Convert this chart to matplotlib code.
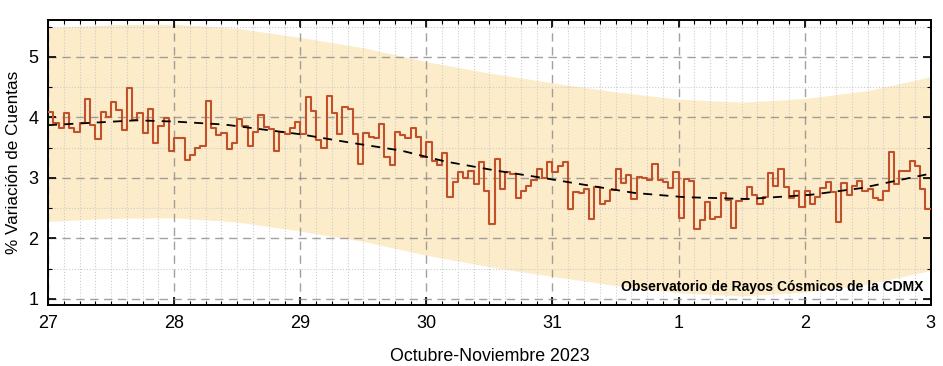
import numpy as np
import matplotlib
matplotlib.use("Agg")
import matplotlib.pyplot as plt
from matplotlib.ticker import MultipleLocator, FixedLocator, FixedFormatter

plt.rcParams['font.family'] = ['Liberation Sans', 'DejaVu Sans']

# hourly % variation, 27 Oct 00h .. 2 Nov 23h
hourly = [4.09, 3.91, 3.83, 4.07, 3.82, 3.76, 3.91, 4.31, 3.87, 3.64,
          4.08, 4.01, 4.26, 4.12, 3.79, 4.48, 3.96, 4.07, 3.74, 4.14,
          3.57, 3.86, 3.99, 3.45, 3.66, 3.65, 3.29, 3.38, 3.50, 3.52,
          4.27, 3.82, 3.70, 3.74, 3.48, 3.57, 3.97, 3.85, 3.53, 3.75,
          4.04, 3.84, 3.80, 3.45, 3.76, 3.73, 3.82, 3.93, 3.73, 4.34,
          4.10, 3.63, 3.49, 4.36, 4.07, 3.73, 4.17, 4.14, 3.73, 3.23,
          3.74, 3.67, 3.66, 3.89, 3.34, 3.22, 3.75, 3.70, 3.65, 3.83,
          3.67, 3.35, 3.60, 3.27, 3.21, 3.41, 2.68, 2.93, 3.10, 2.99,
          3.12, 2.90, 3.26, 2.79, 2.24, 3.31, 2.81, 3.09, 3.07, 2.67,
          2.78, 2.86, 2.96, 3.14, 2.99, 3.26, 3.10, 3.19, 3.26, 2.49,
          2.76, 2.75, 2.82, 2.32, 2.84, 2.57, 2.62, 2.80, 3.15, 2.92,
          3.04, 2.65, 3.01, 2.99, 2.97, 3.23, 2.97, 2.93, 2.83, 3.10,
          2.33, 2.98, 2.94, 2.16, 2.31, 2.60, 2.32, 2.35, 2.75, 2.63,
          2.17, 2.61, 2.65, 2.84, 2.71, 2.57, 2.68, 3.08, 2.87, 3.15,
          2.85, 2.67, 2.79, 2.51, 2.78, 2.57, 2.69, 2.83, 2.93, 2.76,
          2.27, 2.92, 2.71, 2.87, 2.95, 2.78, 2.82, 2.67, 2.64, 2.79,
          3.43, 2.89, 3.11, 3.11, 3.28, 3.19, 2.81, 2.48]

# dashed trend (days since 27 Oct)
trend_day = [0, 0.7, 1.0, 1.4, 2.0, 2.4, 2.8, 3.15, 3.55, 3.95, 4.15, 4.65,
             5.05, 5.55, 6.05, 6.45, 6.7, 7.0]
trend_val = [3.87, 3.95, 3.93, 3.88, 3.72, 3.58, 3.45, 3.27, 3.12, 2.99, 2.92,
             2.75, 2.68, 2.65, 2.72, 2.83, 2.94, 3.07]

# shaded band
band_day = [0, 0.5, 1.0, 1.5, 2.0, 2.5, 3.0, 3.5, 4.0, 4.5, 5.0, 5.5, 6.0, 6.5, 7.0]
band_hi = [5.48, 5.53, 5.54, 5.47, 5.32, 5.15, 4.92, 4.73, 4.57, 4.42, 4.30,
           4.25, 4.31, 4.44, 4.67]
band_lo = [2.28, 2.33, 2.34, 2.27, 2.12, 1.95, 1.72, 1.53, 1.37, 1.22, 1.10,
           1.05, 1.11, 1.24, 1.47]

day_labels = ["27", "28", "29", "30", "31", "1", "2", "3"]

fig = plt.figure(figsize=(9.43, 3.66), dpi=100)
ax = fig.add_axes([0.051, 0.167, 0.936, 0.777])

ax.fill_between(band_day, band_lo, band_hi, color='#fdecc9', lw=0, zorder=1)

t = np.arange(len(hourly) + 1) / 24.0
y = hourly + [hourly[-1]]
ax.plot(t, y, drawstyle='steps-post', color='#c2512b', lw=1.5, zorder=3)
ax.plot(trend_day, trend_val, color='black', lw=1.3, ls=(0, (5, 4)), zorder=4)

ax.set_xlim(0, 7)
ax.set_ylim(0.9, 5.6)
ax.xaxis.set_major_locator(FixedLocator(range(len(day_labels))))
ax.xaxis.set_major_formatter(FixedFormatter(day_labels))
ax.xaxis.set_minor_locator(MultipleLocator(0.125))
ax.yaxis.set_major_locator(MultipleLocator(1))
ax.yaxis.set_minor_locator(MultipleLocator(0.5))

ax.grid(which='major', color='#8a8a8a', ls=(0, (6, 4)), lw=1.0, alpha=0.8)
ax.grid(which='minor', color='#cccccc', ls=':', lw=0.8)

ax.tick_params(which='both', direction='in', top=True, right=True,
               labelsize=13, colors='black')
ax.tick_params(which='major', length=6, width=1.2, pad=7)
ax.tick_params(which='minor', length=3, width=0.8)
for s in ax.spines.values():
    s.set_linewidth(1.4)

ax.set_xlabel("Octubre-Noviembre 2023", fontsize=12.8, labelpad=12)
ax.set_ylabel("% Variación de Cuentas", fontsize=12.3, labelpad=5)

ax.text(0.992, 0.04, "Observatorio de Rayos Cósmicos de la CDMX",
        transform=ax.transAxes, ha='right', va='bottom',
        fontsize=10, fontweight='bold', zorder=5)

fig.savefig("out.png", dpi=100)
